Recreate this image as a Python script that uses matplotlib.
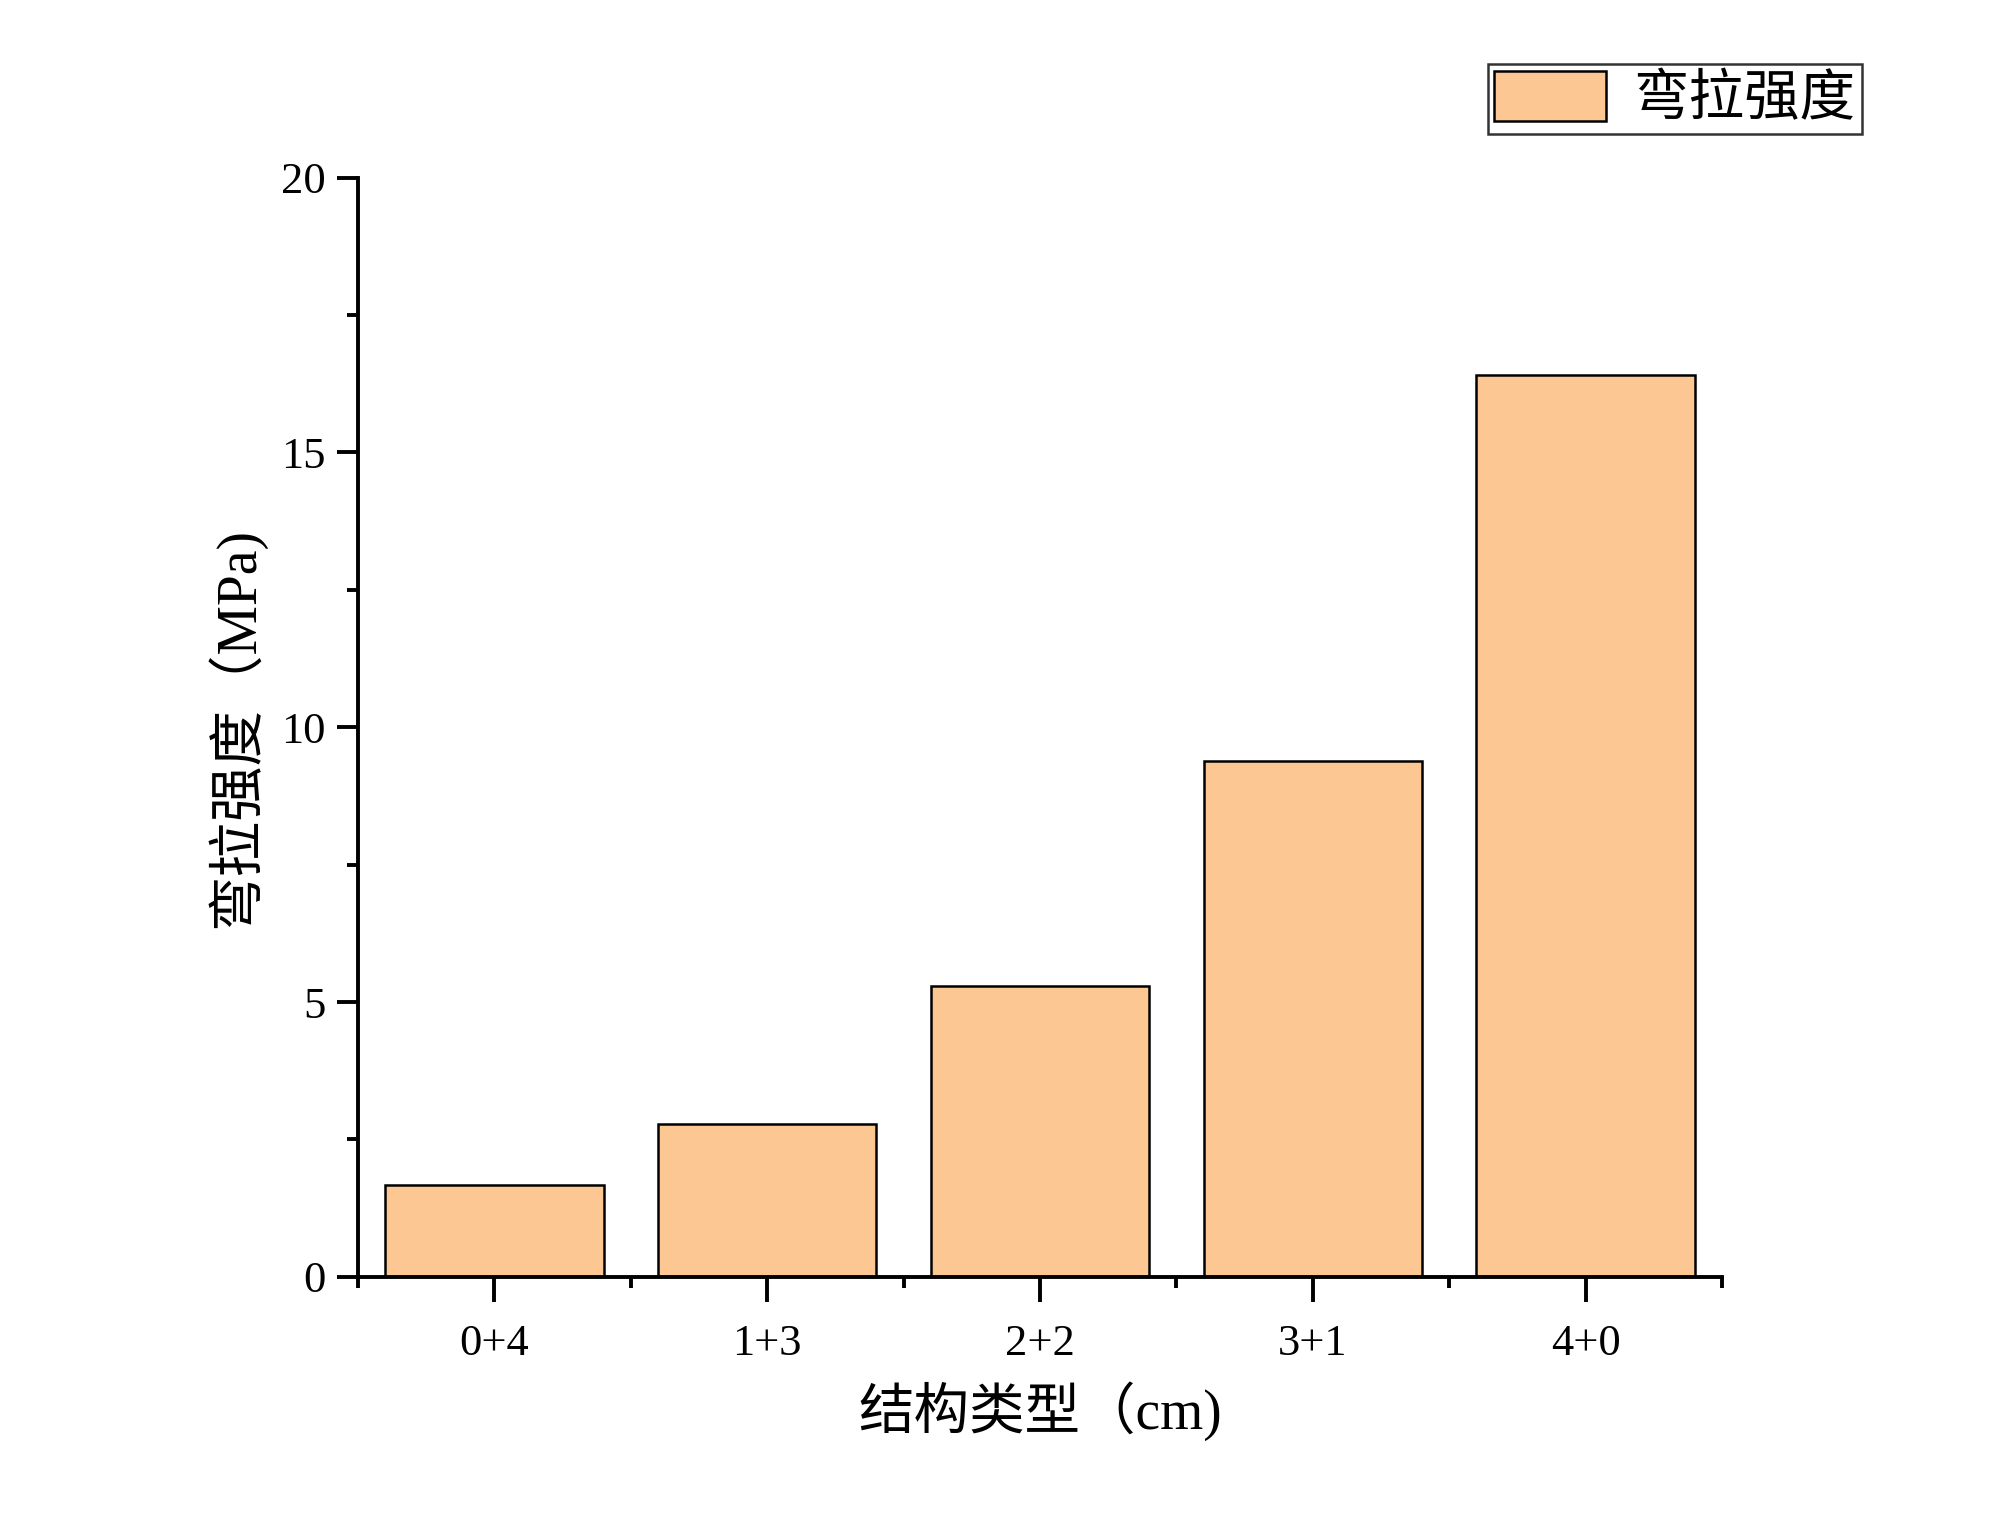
import numpy as np
import matplotlib
matplotlib.use("Agg")
import matplotlib.pyplot as plt
from matplotlib.ticker import MultipleLocator, FixedLocator

plt.rcParams['font.family'] = ['Liberation Serif', 'Noto Sans CJK SC']
plt.rcParams['axes.unicode_minus'] = False

# data
categories = ["0+4", "1+3", "2+2", "3+1", "4+0"]
strength = [1.67, 2.79, 5.30, 9.38, 16.40]

fig = plt.figure(figsize=(10, 7.655), dpi=200)
ax = fig.add_axes([0.179, 0.166, 0.682, 0.718])

x = np.arange(len(categories))
ax.bar(x, strength, width=0.8, color="#FDC794", edgecolor="black",
       linewidth=0.9, label="弯拉强度", zorder=2)

ax.set_xlim(-0.5, len(categories) - 0.5)
ax.set_ylim(0, 20)
ax.set_xticks(x)
ax.set_xticklabels(categories)
ax.xaxis.set_minor_locator(FixedLocator(np.arange(-0.5, len(categories), 1.0)))
ax.yaxis.set_major_locator(MultipleLocator(5))
ax.yaxis.set_minor_locator(MultipleLocator(2.5))

for s in ["top", "right"]:
    ax.spines[s].set_visible(False)
for s in ["left", "bottom"]:
    ax.spines[s].set_linewidth(1.4)

ax.tick_params(axis="x", which="major", direction="out", length=9, width=1.4,
               labelsize=16, pad=8)
ax.tick_params(axis="x", which="minor", direction="out", length=4, width=1.4)
ax.tick_params(axis="y", which="major", direction="out", length=7.5, width=1.4,
               labelsize=16, pad=4)
ax.tick_params(axis="y", which="minor", direction="out", length=4, width=1.4)

ax.set_xlabel("结构类型（cm)", fontsize=20, labelpad=6)
ax.set_ylabel("弯拉强度（MPa)", fontsize=20, labelpad=6)

leg = fig.legend(loc="upper right", bbox_to_anchor=(0.931, 0.958), fontsize=20,
                 frameon=True, fancybox=False, edgecolor="black",
                 handlelength=2.0, handleheight=1.0, handletextpad=0.5,
                 borderpad=0.12, borderaxespad=0)
leg.get_frame().set_linewidth(0.9)

fig.savefig("out.png", dpi=200)
